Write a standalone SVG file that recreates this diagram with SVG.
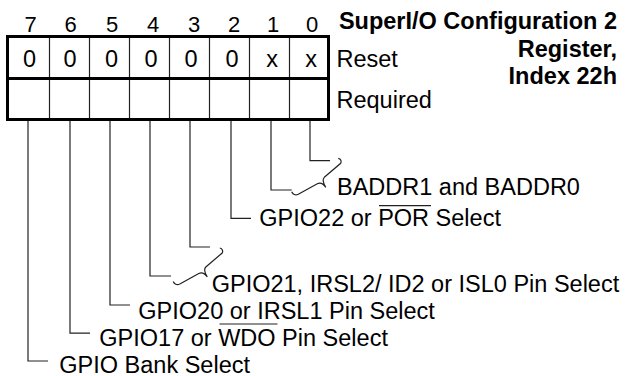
<svg xmlns="http://www.w3.org/2000/svg" width="627" height="376" viewBox="0 0 627 376">
<style>
text{font-family:"Liberation Sans",Arial,sans-serif;fill:#000}
.lbl{font-size:23.5px}
.hdr{font-size:22px;text-anchor:middle}
.val{font-size:23.5px;text-anchor:middle}
.ttl{font-size:23.5px;font-weight:bold;text-anchor:end}
.thick{fill:none;stroke:#000;stroke-width:3}
.thin{fill:none;stroke:#222;stroke-width:1.2}
.conn{fill:none;stroke:#222;stroke-width:1.2}
</style>
<defs>
<path id="brace" d="M0,0 C2.5,0.5 3.5,3 2.4,5 L-14,19 C-16,21 -15,25 -12.5,29 C-15,25.5 -18,24 -21,25.5 L-40,36 C-43,37.5 -45.5,36 -46.6,33.4"/>
</defs>
<g id="title">
<text class="ttl" x="617" y="29">SuperI/O Configuration 2</text>
<text class="ttl" x="617" y="56.5">Register,</text>
<text class="ttl" x="617" y="84">Index 22h</text>
</g>
<g id="register">
<g class="hdr-row">
<text class="hdr" x="30.5" y="32">7</text>
<text class="hdr" x="70.5" y="32">6</text>
<text class="hdr" x="112" y="32">5</text>
<text class="hdr" x="153" y="32">4</text>
<text class="hdr" x="194" y="32">3</text>
<text class="hdr" x="234" y="32">2</text>
<text class="hdr" x="273" y="32">1</text>
<text class="hdr" x="312" y="32">0</text>
</g>
<path class="thin" d="M49.5,36.5V119.5M89.5,36.5V119.5M129.5,36.5V119.5M169.5,36.5V119.5M209.5,36.5V119.5M249.5,36.5V119.5M289.5,36.5V119.5"/>
<rect class="thick" x="7.5" y="36.5" width="321" height="83"/>
<line class="thick" x1="7.5" y1="78.5" x2="328.5" y2="78.5"/>
<g class="val-row">
<text class="val" x="29.5" y="67">0</text>
<text class="val" x="70" y="67">0</text>
<text class="val" x="111.5" y="67">0</text>
<text class="val" x="151" y="67">0</text>
<text class="val" x="191" y="67">0</text>
<text class="val" x="232" y="67">0</text>
<text class="val" x="272" y="67">x</text>
<text class="val" x="311" y="67">x</text>
</g>
</g>
<g id="row-labels">
<text class="lbl" x="336.5" y="66.5">Reset</text>
<text class="lbl" x="336.5" y="108">Required</text>
</g>
<g id="connectors">
<path class="conn" d="M310,121V160.7H330"/>
<path class="conn" d="M271,121V190H291.7"/>
<path class="conn" d="M231,121V218.3H251"/>
<path class="conn" d="M190,121V247H210"/>
<path class="conn" d="M150,121V276H171"/>
<path class="conn" d="M110,121V305H130"/>
<path class="conn" d="M70,121V333.2H90"/>
<path class="conn" d="M28,121V361H48"/>
<use href="#brace" class="conn" transform="translate(338.3,158.3)"/>
<use href="#brace" class="conn" transform="translate(219.8,248)"/>
</g>
<g id="label-baddr">
<text class="lbl" x="337" y="195">BADDR1 and BADDR0</text>
</g>
<g id="label-gpio22">
<text class="lbl" x="259.3" y="226">GPIO22 or POR Select</text>
<line class="conn" x1="379" y1="205.7" x2="431" y2="205.7"/>
</g>
<g id="label-gpio21">
<text class="lbl" x="211.7" y="291.5">GPIO21, IRSL2/ ID2 or ISL0 Pin Select</text>
</g>
<g id="label-gpio20">
<text class="lbl" x="138.3" y="318.5">GPIO20 or IRSL1 Pin Select</text>
</g>
<g id="label-gpio17">
<text class="lbl" x="99.3" y="346">GPIO17 or WDO Pin Select</text>
<line class="conn" x1="219.5" y1="324" x2="277.5" y2="324"/>
</g>
<g id="label-bank">
<text class="lbl" x="59.3" y="372.5">GPIO Bank Select</text>
</g>
</svg>
